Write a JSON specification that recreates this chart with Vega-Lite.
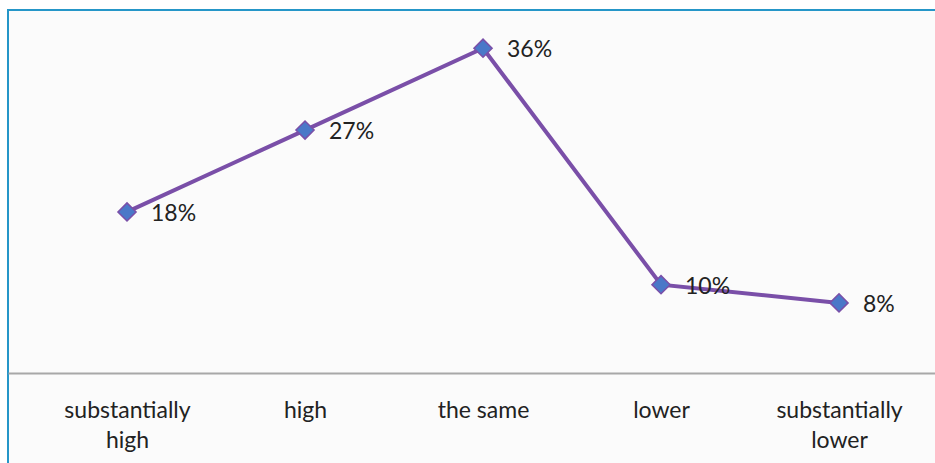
{
  "$schema": "https://vega.github.io/schema/vega-lite/v6.json",
  "autosize": "none",
  "width": 940,
  "height": 463,
  "padding": {"left": 8, "top": 10, "right": 0, "bottom": 0},
  "background": "#ffffff",
  "config": {
    "view": {"stroke": "#2596c8", "strokeWidth": 2, "fill": "#fbfbfb"},
    "font": "Lato"
  },
  "data": {
    "values": [
      {"category": "substantially\nhigh", "value": 18, "label": "18%"},
      {"category": "high", "value": 27, "label": "27%"},
      {"category": "the same", "value": 36, "label": "36%"},
      {"category": "lower", "value": 10, "label": "10%"},
      {"category": "substantially\nlower", "value": 8, "label": "8%"}
    ]
  },
  "encoding": {
    "x": {
      "field": "category",
      "type": "nominal",
      "sort": null,
      "scale": {"type": "point", "padding": 0.6404, "align": 0.522},
      "axis": {
        "title": null,
        "orient": "bottom",
        "offset": -100,
        "domainColor": "#a8a8a8",
        "domainWidth": 2,
        "ticks": false,
        "labelAngle": 0,
        "labelFontSize": 23,
        "labelColor": "#222222",
        "labelPadding": 37,
        "labelLineHeight": 30,
        "labelBaseline": "middle",
        "labelExpr": "split(datum.label, '\\n')"
      }
    },
    "y": {
      "field": "value",
      "type": "quantitative",
      "scale": {"domain": [-10.7, 40.2], "nice": false, "zero": false},
      "axis": null
    }
  },
  "layer": [
    {
      "mark": {"type": "line", "color": "#7a4fa8", "strokeWidth": 4}
    },
    {
      "mark": {"type": "point", "shape": "diamond", "filled": true, "fill": "#4a78c8", "stroke": "#7a4fa8", "strokeWidth": 1.5, "size": 330, "opacity": 1}
    },
    {
      "mark": {"type": "text", "align": "left", "baseline": "middle", "dx": 24, "dy": 2, "fontSize": 23, "color": "#222222"},
      "encoding": {"text": {"field": "label"}}
    }
  ]
}
